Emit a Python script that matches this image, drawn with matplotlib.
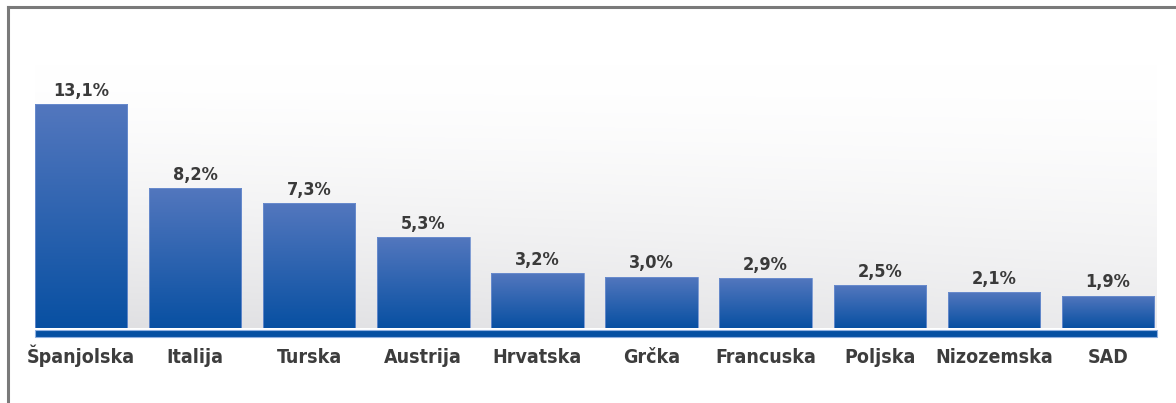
import matplotlib
matplotlib.use("Agg")
import matplotlib.pyplot as plt
import numpy as np
from matplotlib.colors import LinearSegmentedColormap
from matplotlib.patches import Rectangle
from matplotlib.lines import Line2D

countries = ["Španjolska", "Italija", "Turska", "Austrija", "Hrvatska",
             "Grčka", "Francuska", "Poljska", "Nizozemska", "SAD"]
shares = [13.1, 8.2, 7.3, 5.3, 3.2, 3.0, 2.9, 2.5, 2.1, 1.9]
value_labels = ["13,1%", "8,2%", "7,3%", "5,3%", "3,2%",
                "3,0%", "2,9%", "2,5%", "2,1%", "1,9%"]

W, H = 1176, 403
fig = plt.figure(figsize=(W / 100, H / 100), dpi=100)
fig.patch.set_facecolor("white")

# plot area in pixels: x 35..1157, y 65..328 (from top)
left, right, top, bottom = 35, 1157, 65, 328
ax = fig.add_axes([left / W, (H - bottom) / H, (right - left) / W, (bottom - top) / H])
ax.set_xlim(-0.403, 9.43)
ax.set_ylim(0, 15.4)
ax.axis("off")

# soft grey background gradient behind the bars
ny, nx = 200, 400
ty = np.linspace(0, 1, ny)[:, None]      # 0 at top, 1 at bottom
tx = np.linspace(0, 1, nx)[None, :]
shade = ty ** 1.5 * (1 - 0.35 * tx)
bg = np.ones((ny, nx, 3)) - shade[..., None] * np.array([0.125, 0.125, 0.115])
ax.imshow(bg, extent=(-0.403, 9.43, 0, 15.4), aspect="auto", zorder=0,
          interpolation="bicubic")

# bars with vertical blue gradient
bar_cmap = LinearSegmentedColormap.from_list("bar", ["#0850a2", "#5377be"])
grad = np.linspace(0, 1, 256)[:, None]
x = np.arange(len(countries))
bars = ax.bar(x, shares, width=0.81, color="none", edgecolor="#6d8fcf",
              linewidth=0.6, zorder=3)
for b in bars:
    x0, w, h = b.get_x(), b.get_width(), b.get_height()
    im = ax.imshow(grad, cmap=bar_cmap, extent=(x0, x0 + w, 0, h),
                   origin="lower", aspect="auto", zorder=2)
    im.set_clip_path(b)

font = dict(family="DejaVu Sans", fontstretch="condensed", fontweight="bold")

# value labels
for xi, v, lab in zip(x, shares, value_labels):
    ax.annotate(lab, (xi, v), xytext=(0, 6), textcoords="offset points",
                ha="center", va="baseline", fontsize=13, color="#3a3a3a", **font)

# category labels
for xi, name in zip(x, countries):
    ax.text(xi, -2.05, name, ha="center", va="baseline", fontsize=14,
            color="#3d3d3d", **font)

# blue baseline strip
strip = Rectangle((0, -9 / (bottom - top)), 1, 7 / (bottom - top),
                  transform=ax.transAxes, facecolor="#0650a2",
                  edgecolor="#8fb0e0", linewidth=0.8, clip_on=False, zorder=4)
ax.add_patch(strip)

# outer frame: left and top rules
fig.add_artist(Line2D([8 / W, 8 / W], [0, 1 - 7 / H], transform=fig.transFigure,
                      color="#7a7a7a", linewidth=2.2))
fig.add_artist(Line2D([8 / W, 1], [1 - 7 / H, 1 - 7 / H], transform=fig.transFigure,
                      color="#7a7a7a", linewidth=2.2))

fig.savefig("out.png", dpi=100)
